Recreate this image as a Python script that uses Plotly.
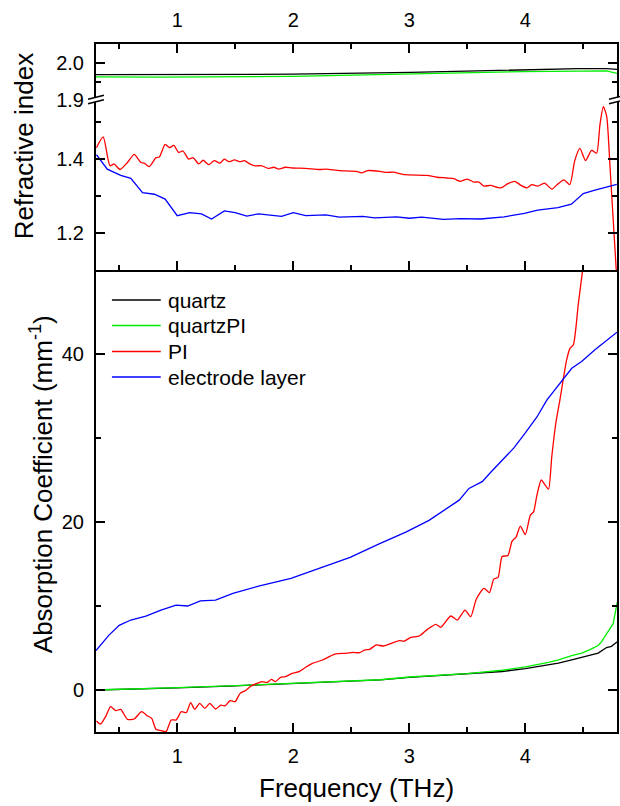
import plotly.graph_objects as go

# ---------------- data ----------------
# Refractive index, upper (broken) segment
freq_n_quartz = [0.30, 0.83, 1.99, 3.01, 3.99, 4.46, 4.70, 4.79]
n_quartz = [1.969, 1.969, 1.970, 1.975, 1.983, 1.985, 1.985, 1.983]
freq_n_quartzPI = [0.30, 0.83, 1.99, 3.01, 3.99, 4.70, 4.745, 4.79]
n_quartzPI = [1.963, 1.962, 1.964, 1.970, 1.977, 1.979, 1.975, 1.972]

# Refractive index, lower segment
freq_n_PI = [0.304, 0.362, 0.420, 0.455, 0.507, 0.571, 0.629, 0.687, 0.716, 0.759,
             0.817, 0.846, 0.896, 0.933, 0.971, 1.012, 1.049, 1.099, 1.136, 1.186,
             1.223, 1.272, 1.319, 1.368, 1.406, 1.446, 1.493, 1.542, 1.580, 1.620,
             1.672, 1.730, 1.783, 1.832, 1.875, 1.933, 1.991, 2.107, 2.223, 2.281,
             2.397, 2.542, 2.594, 2.643, 2.745, 2.803, 2.861, 2.962, 3.151, 3.238,
             3.325, 3.383, 3.441, 3.499, 3.557, 3.600, 3.643, 3.701, 3.788, 3.846,
             3.910, 3.962, 4.014, 4.055, 4.107, 4.165, 4.229, 4.281, 4.333, 4.383,
             4.426, 4.470, 4.519, 4.571, 4.614, 4.643, 4.672, 4.701, 4.730, 4.759,
             4.783, 4.79]
n_PI = [1.431, 1.460, 1.382, 1.387, 1.372, 1.391, 1.413, 1.391, 1.389, 1.380,
        1.404, 1.406, 1.440, 1.431, 1.437, 1.418, 1.422, 1.400, 1.404, 1.387,
        1.397, 1.385, 1.396, 1.389, 1.400, 1.393, 1.398, 1.393, 1.396, 1.388,
        1.382, 1.382, 1.375, 1.378, 1.373, 1.378, 1.376, 1.375, 1.372, 1.373,
        1.369, 1.367, 1.363, 1.369, 1.367, 1.364, 1.365, 1.358, 1.356, 1.351,
        1.349, 1.347, 1.340, 1.346, 1.338, 1.338, 1.327, 1.329, 1.322, 1.333,
        1.340, 1.329, 1.322, 1.331, 1.327, 1.335, 1.319, 1.333, 1.344, 1.331,
        1.396, 1.429, 1.396, 1.424, 1.416, 1.493, 1.542, 1.516, 1.378, 1.227,
        1.102, 1.06]

freq_n_elec = [0.304, 0.397, 0.513, 0.600, 0.701, 0.803, 0.896, 1.0, 1.107, 1.209,
               1.296, 1.406, 1.499, 1.600, 1.701, 1.899, 2.0, 2.107, 2.281, 2.397,
               2.600, 2.701, 2.890, 3.0, 3.107, 3.296, 3.441, 3.614, 3.817, 3.991,
               4.107, 4.281, 4.397, 4.499, 4.600, 4.788]
n_elec = [1.412, 1.373, 1.356, 1.348, 1.309, 1.305, 1.292, 1.247, 1.255, 1.252,
          1.238, 1.260, 1.255, 1.246, 1.252, 1.245, 1.255, 1.247, 1.249, 1.243,
          1.245, 1.241, 1.244, 1.240, 1.243, 1.237, 1.239, 1.238, 1.244, 1.253,
          1.262, 1.269, 1.278, 1.307, 1.316, 1.332]

# Absorption coefficient (mm^-1)
freq_a_quartz = [0.30, 0.60, 1.0, 1.5, 2.0, 2.5, 2.75, 3.0, 3.5, 3.8, 4.0, 4.2,
                 4.285, 4.4, 4.514, 4.557, 4.628, 4.70, 4.742, 4.793]
a_quartz = [0.0, 0.1, 0.25, 0.5, 0.8, 1.1, 1.2, 1.5, 1.9, 2.2, 2.55, 3.0,
            3.2, 3.6, 3.97, 4.1, 4.4, 5.05, 5.2, 5.75]
freq_a_quartzPI = [0.30, 0.60, 1.0, 1.5, 2.0, 2.5, 2.75, 3.0, 3.5, 3.8, 4.0, 4.2,
                   4.285, 4.4, 4.485, 4.557, 4.628, 4.657, 4.714, 4.757, 4.793]
a_quartzPI = [0.0, 0.1, 0.28, 0.52, 0.82, 1.12, 1.22, 1.55, 1.95, 2.35, 2.75, 3.3,
              3.6, 4.1, 4.4, 4.8, 5.3, 5.75, 6.9, 7.9, 10.5]

freq_a_PI = [0.304, 0.339, 0.383, 0.426, 0.470, 0.513, 0.571, 0.629, 0.693, 0.745,
             0.780, 0.817, 0.861, 0.904, 0.948, 0.991, 1.035, 1.078, 1.116, 1.151,
             1.194, 1.238, 1.281, 1.330, 1.377, 1.412, 1.455, 1.499, 1.542, 1.586,
             1.638, 1.687, 1.730, 1.774, 1.812, 1.846, 1.890, 1.933, 1.991, 2.049,
             2.107, 2.165, 2.252, 2.310, 2.368, 2.455, 2.513, 2.571, 2.614, 2.658,
             2.716, 2.774, 2.832, 2.914, 2.957, 3.014, 3.086, 3.157, 3.229, 3.271,
             3.357, 3.414, 3.480, 3.529, 3.577, 3.643, 3.691, 3.728, 3.765, 3.800,
             3.850, 3.885, 3.920, 3.957, 4.000, 4.043, 4.071, 4.100, 4.137, 4.171,
             4.200, 4.228, 4.262, 4.300, 4.356, 4.386, 4.414, 4.457, 4.494, 4.520]
a_PI = [-3.69, -4.05, -3.17, -1.98, -2.46, -2.30, -3.49, -3.45, -2.58, -3.10,
        -3.37, -4.68, -4.84, -4.96, -3.57, -3.57, -2.58, -2.70, -1.51, -2.30,
        -1.59, -2.18, -1.59, -2.26, -1.79, -1.90, -1.27, -1.39, -0.40, -0.08,
        0.48, 0.79, 0.99, 0.91, 1.27, 0.99, 1.51, 1.59, 1.98, 2.18,
        2.70, 3.17, 3.57, 3.97, 4.29, 4.37, 4.48, 4.44, 4.76, 4.84,
        5.36, 5.24, 5.48, 5.87, 5.83, 6.27, 6.43, 7.22, 7.82, 7.46,
        8.81, 8.33, 9.52, 8.73, 10.8, 12.1, 11.6, 13.2, 13.4, 15.9,
        16.0, 17.7, 18.2, 19.5, 18.5, 20.8, 21.2, 23.2, 25.0, 24.4,
        23.9, 27.8, 31.7, 34.7, 39.3, 40.7, 41.1, 46.0, 50.0, 53.0]

freq_a_elec = [0.30, 0.39, 0.41, 0.50, 0.60, 0.73, 0.86, 0.99, 1.09, 1.20,
               1.33, 1.48, 1.71, 1.98, 2.23, 2.49, 2.74, 2.97, 3.17, 3.43,
               3.514, 3.628, 3.714, 3.80, 3.90, 4.0, 4.10, 4.185, 4.328, 4.40,
               4.485, 4.60, 4.79]
a_elec = [4.7, 6.15, 6.5, 7.7, 8.33, 8.8, 9.5, 10.1, 10.0, 10.6,
          10.7, 11.5, 12.4, 13.3, 14.5, 15.8, 17.4, 18.8, 20.2, 22.6,
          24.0, 24.8, 26.1, 27.4, 28.8, 30.6, 32.5, 34.5, 37.1, 38.3,
          39.1, 40.5, 42.6]

series_names = ["quartz", "quartzPI", "PI", "electrode layer"]
series_colors = ["#000000", "#00ee00", "#ff0000", "#0000ff"]

x_range = [0.3, 4.79]
abs_range = [-5, 50]
n_low_range = [1.1, 1.56]
n_high_range = [1.9, 2.052]

# ---------------- layout geometry ----------------
W_PX, H_PX = 620, 806
M_L, M_R, M_T, M_B = 96, 1, 44, 74
PW = W_PX - M_L - M_R
PH = H_PX - M_T - M_B
Y_SPLIT_PANEL = 270   # pixel y of boundary between panels
Y_BREAK = 100         # pixel y of the axis break


def px2x(px):
    return (px - M_L) / PW


def py2y(py):
    return (H_PX - M_B - py) / PH


FONT = "Liberation Sans, Arial, sans-serif"
LW = 1.3

fig = go.Figure()

# upper segment
fig.add_trace(go.Scatter(x=freq_n_quartz, y=n_quartz, xaxis="x3", yaxis="y3",
                         mode="lines", line=dict(color=series_colors[0], width=LW),
                         name=series_names[0], showlegend=False))
fig.add_trace(go.Scatter(x=freq_n_quartzPI, y=n_quartzPI, xaxis="x3", yaxis="y3",
                         mode="lines", line=dict(color=series_colors[1], width=LW),
                         name=series_names[1], showlegend=False))
# lower segment
fig.add_trace(go.Scatter(x=freq_n_PI, y=n_PI, xaxis="x2", yaxis="y2",
                         mode="lines", line=dict(color=series_colors[2], width=LW, shape="spline", smoothing=0.6),
                         name=series_names[2], showlegend=False))
fig.add_trace(go.Scatter(x=freq_n_elec, y=n_elec, xaxis="x2", yaxis="y2",
                         mode="lines", line=dict(color=series_colors[3], width=LW),
                         name=series_names[3], showlegend=False))
# absorption
fig.add_trace(go.Scatter(x=freq_a_quartz, y=a_quartz, xaxis="x", yaxis="y",
                         mode="lines", line=dict(color=series_colors[0], width=LW),
                         name=series_names[0], showlegend=False))
fig.add_trace(go.Scatter(x=freq_a_quartzPI, y=a_quartzPI, xaxis="x", yaxis="y",
                         mode="lines", line=dict(color=series_colors[1], width=LW),
                         name=series_names[1], showlegend=False))
fig.add_trace(go.Scatter(x=freq_a_PI, y=a_PI, xaxis="x", yaxis="y",
                         mode="lines", line=dict(color=series_colors[2], width=LW, shape="spline", smoothing=0.6),
                         name=series_names[2], showlegend=False))
fig.add_trace(go.Scatter(x=freq_a_elec, y=a_elec, xaxis="x", yaxis="y",
                         mode="lines", line=dict(color=series_colors[3], width=LW),
                         name=series_names[3], showlegend=False))

tickfont = dict(family=FONT, size=20, color="black")
common_ax = dict(showline=True, linecolor="black", linewidth=2, ticks="inside",
                 ticklen=9, tickwidth=2, tickcolor="black", showgrid=False,
                 zeroline=False, tickfont=tickfont)
minor_x = dict(dtick=0.5, ticklen=5, tickwidth=2, tickcolor="black", ticks="inside")

d_bottom = [0, py2y(Y_SPLIT_PANEL)]
d_low = [py2y(Y_SPLIT_PANEL), py2y(Y_BREAK)]
d_high = [py2y(Y_BREAK), 1]

fig.update_layout(
    width=W_PX, height=H_PX,
    margin=dict(l=M_L, r=M_R, t=M_T, b=M_B),
    paper_bgcolor="white", plot_bgcolor="white",
    showlegend=False,
    xaxis=dict(**common_ax, range=x_range, anchor="y", side="bottom",
               tickvals=[1, 2, 3, 4], minor=minor_x, mirror=False,
               ticklabelstandoff=5),
    xaxis2=dict(**common_ax, range=x_range, anchor="y2", side="bottom",
                tickvals=[1, 2, 3, 4], minor=minor_x, showticklabels=False,
                matches="x", mirror=False),
    xaxis3=dict(**common_ax, range=x_range, anchor="y3", side="top",
                tickvals=[1, 2, 3, 4], minor=minor_x, matches="x", mirror=False,
                ticklabelstandoff=7),
    yaxis=dict(**common_ax, domain=d_bottom, range=abs_range, anchor="x",
               tickvals=[0, 20, 40], mirror="ticks", ticklabelstandoff=6,
               minor=dict(tickvals=[10, 30], ticklen=5, tickwidth=2, tickcolor="black", ticks="inside")),
    yaxis2=dict(**common_ax, domain=d_low, range=n_low_range, anchor="x2",
                tickvals=[1.2, 1.4], tickformat=".1f", mirror="ticks", ticklabelstandoff=6,
                minor=dict(tickvals=[1.3, 1.5], ticklen=5, tickwidth=2, tickcolor="black", ticks="inside")),
    yaxis3=dict(**common_ax, domain=d_high, range=n_high_range, anchor="x3",
                tickvals=[1.9, 2.0], tickformat=".1f", mirror="ticks", ticklabelstandoff=6,
                minor=dict(tickvals=[1.95], ticklen=5, tickwidth=2, tickcolor="black", ticks="inside")),
)

shapes = []
annotations = []

# axis break marks (left and right)
for xc in (M_L, W_PX - M_R):
    x0p, x1p = xc - 8, xc + 8
    # white band covering the axis line
    path = (f"M {px2x(x0p)} {py2y(Y_BREAK + 3.5)} L {px2x(x1p)} {py2y(Y_BREAK - 0.5)} "
            f"L {px2x(x1p)} {py2y(Y_BREAK - 4.5)} L {px2x(x0p)} {py2y(Y_BREAK - 0.5)} Z")
    shapes.append(dict(type="path", xref="paper", yref="paper", path=path,
                       fillcolor="white", line=dict(width=0), layer="above"))
    for off in (2.2, -2.2):
        shapes.append(dict(type="line", xref="paper", yref="paper",
                           x0=px2x(x0p), y0=py2y(Y_BREAK + 1.5 + off),
                           x1=px2x(x1p), y1=py2y(Y_BREAK - 2.5 + off),
                           line=dict(color="black", width=1.5), layer="above"))

# legend (drawn manually to match line length)
legend_rows_py = [300, 325.5, 351.5, 377]
for name, col, py in zip(series_names, series_colors, legend_rows_py):
    shapes.append(dict(type="line", xref="paper", yref="paper",
                       x0=px2x(112), x1=px2x(161), y0=py2y(py), y1=py2y(py),
                       line=dict(color=col, width=1.3)))
    annotations.append(dict(text=name, xref="paper", yref="paper", x=px2x(166), y=py2y(py),
                            xanchor="left", yanchor="middle", showarrow=False,
                            font=dict(family=FONT, size=21, color="black")))

# axis titles
annotations.append(dict(text="Refractive index", xref="paper", yref="paper",
                        x=px2x(24), y=py2y(146), textangle=-90, xanchor="center", yanchor="middle",
                        showarrow=False, font=dict(family=FONT, size=26, color="black")))
annotations.append(dict(text="Absorption Coefficient (mm<sup>-1</sup>)", xref="paper", yref="paper",
                        x=px2x(41), y=py2y(484), textangle=-90, xanchor="center", yanchor="middle",
                        showarrow=False, font=dict(family=FONT, size=26, color="black")))
annotations.append(dict(text="Frequency (THz)", xref="paper", yref="paper",
                        x=px2x(357), y=py2y(805), xanchor="center", yanchor="bottom",
                        showarrow=False, font=dict(family=FONT, size=26, color="black")))

fig.update_layout(shapes=shapes, annotations=annotations)

fig.write_html("out.html", config={"displayModeBar": False})
